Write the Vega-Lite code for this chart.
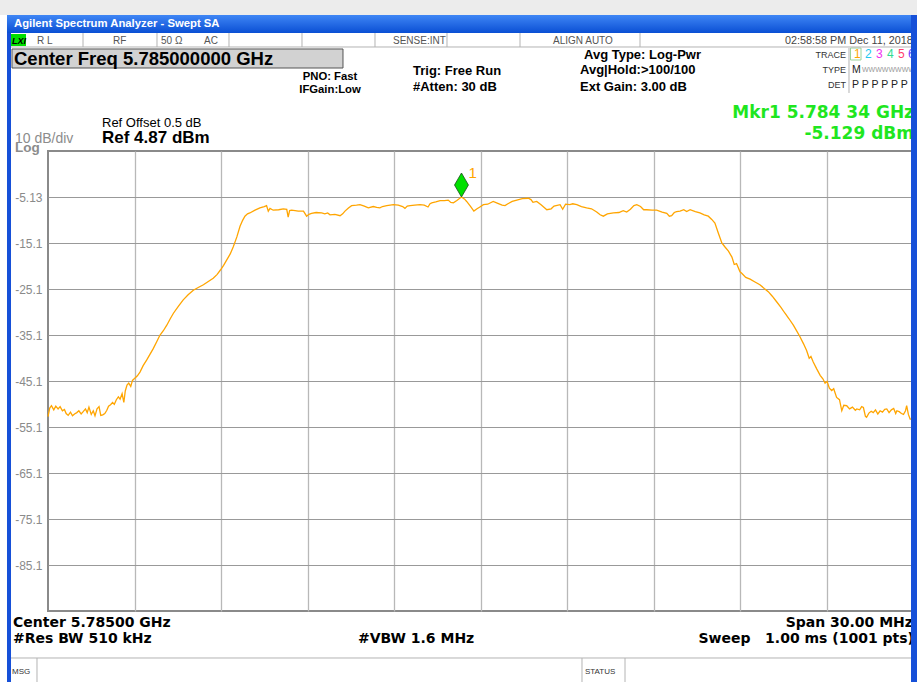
{
  "$schema": "https://vega.github.io/schema/vega-lite/v6.json",
  "width": 865,
  "height": 460,
  "autosize": {"type": "none"},
  "padding": {"left": 48, "top": 151, "right": 4, "bottom": 71},
  "background": "white",
  "config": {"view": {"stroke": "#8a8a8a", "strokeWidth": 2}, "font": "Liberation Sans"},
  "encoding": {
    "x": {"field": "f", "type": "quantitative", "scale": {"domain": [5770, 5800], "nice": false, "zero": false},
      "axis": {"values": [5773, 5776, 5779, 5782, 5785, 5788, 5791, 5794, 5797], "labels": false, "ticks": false, "domain": false, "title": null, "grid": true, "gridColor": "#b8b8b8", "gridWidth": 1.3}},
    "y": {"field": "v", "type": "quantitative", "scale": {"domain": [-95.13, 4.87], "nice": false, "zero": false},
      "axis": {"values": [-5.13, -15.13, -25.13, -35.13, -45.13, -55.13, -65.13, -75.13, -85.13], "ticks": false, "domain": false, "title": null, "grid": true, "gridColor": "#999999", "gridWidth": 1, "labelColor": "#8a8a8a", "labelFontSize": 12, "labelFont": "Liberation Sans", "labelPadding": 6, "labelExpr": "datum.value > -6 ? '-5.13' : '-' + format(-datum.value, '.1f')"}}
  },
  "layer": [
    {"data": {"values": [{"f": 5768.335, "f2": 5800.139, "v": 37.696, "v2": 34.435}]},
     "mark": {"type": "rect", "color": "#ececec"},
     "encoding": {"x2": {"field": "f2"}, "y2": {"field": "v2"}}},
    {"data": {"values": [{"f": 5768.578, "f2": 5799.965, "v": 34.435, "v2": 30.522}]},
     "mark": {"type": "rect", "color": {"x1": 0, "y1": 0, "x2": 0, "y2": 1, "gradient": "linear", "stops": [{"offset": 0, "color": "#3f86f5"}, {"offset": 1, "color": "#0a4fd4"}]}},
     "encoding": {"x2": {"field": "f2"}, "y2": {"field": "v2"}}},
    {"data": {"values": [{"f": 5768.751, "f2": 5780.231, "v": 27.044, "v2": 22.913}]},
     "mark": {"type": "rect", "color": "#d2d2d2", "stroke": "#555555", "strokeWidth": 1},
     "encoding": {"x2": {"field": "f2"}, "y2": {"field": "v2"}}},
    {"data": {"values": [{"f": 5768.717, "f2": 5769.237, "v": 30.305, "v2": 27.696}]},
     "mark": {"type": "rect", "color": "#00e000"},
     "encoding": {"x2": {"field": "f2"}, "y2": {"field": "v2"}}},
    {"data": {"values": [{"f": 5797.833, "f2": 5798.197, "v": 27.261, "v2": 24.653}]},
     "mark": {"type": "rect", "fill": null, "fillOpacity": 0, "stroke": "#9ad29a", "strokeWidth": 1},
     "encoding": {"x2": {"field": "f2"}, "y2": {"field": "v2"}}},
    {"data": {"values": [
      {"f": 5771.214, "v": 30.522, "v2": 27.479}, {"f": 5773.780, "v": 30.522, "v2": 27.479},
      {"f": 5776.277, "v": 30.522, "v2": 27.479}, {"f": 5778.809, "v": 30.522, "v2": 27.479},
      {"f": 5781.341, "v": 30.522, "v2": 27.479}, {"f": 5783.838, "v": 30.522, "v2": 27.479},
      {"f": 5786.370, "v": 30.522, "v2": 27.479}, {"f": 5790.532, "v": 30.522, "v2": 27.479},
      {"f": 5797.780, "v": 27.261, "v2": 17.479},
      {"f": 5769.618, "v": -105.347, "v2": -110.565}, {"f": 5788.520, "v": -105.347, "v2": -110.565},
      {"f": 5790.012, "v": -105.347, "v2": -110.565}
    ]},
     "mark": {"type": "rule", "color": "#b4b4b4", "strokeWidth": 1},
     "encoding": {"y2": {"field": "v2"}}},
    {"data": {"values": [
      {"f": 5768.717, "f2": 5799.965, "v": 27.479},
      {"f": 5768.717, "f2": 5799.965, "v": -105.347}
    ]},
     "mark": {"type": "rule", "color": "#b4b4b4", "strokeWidth": 1},
     "encoding": {"x2": {"field": "f2"}}},
    {"data": {"values": [
      {"f":5770.00,"v":-52.9},{"f":5770.06,"v":-51.0},{"f":5770.12,"v":-50.5},{"f":5770.20,"v":-51.4},{"f":5770.27,"v":-50.6},{"f":5770.35,"v":-51.2},{"f":5770.42,"v":-50.7},{"f":5770.50,"v":-51.6},{"f":5770.57,"v":-51.3},{"f":5770.63,"v":-52.2},{"f":5770.70,"v":-52.6},{"f":5770.78,"v":-51.9},{"f":5770.85,"v":-52.7},{"f":5770.92,"v":-52.3},{"f":5771.00,"v":-52.0},{"f":5771.07,"v":-51.6},{"f":5771.15,"v":-52.3},{"f":5771.22,"v":-51.8},{"f":5771.30,"v":-51.2},{"f":5771.36,"v":-52.0},{"f":5771.42,"v":-50.8},{"f":5771.50,"v":-52.4},{"f":5771.57,"v":-51.6},{"f":5771.63,"v":-52.7},{"f":5771.70,"v":-51.2},{"f":5771.77,"v":-50.7},{"f":5771.83,"v":-52.6},{"f":5771.90,"v":-52.5},{"f":5771.97,"v":-52.2},{"f":5772.04,"v":-51.5},{"f":5772.10,"v":-50.6},{"f":5772.17,"v":-50.3},{"f":5772.24,"v":-49.8},{"f":5772.30,"v":-50.2},{"f":5772.37,"v":-49.2},{"f":5772.44,"v":-48.6},{"f":5772.50,"v":-49.1},{"f":5772.57,"v":-47.9},{"f":5772.63,"v":-49.8},{"f":5772.68,"v":-47.3},{"f":5772.74,"v":-46.0},{"f":5772.80,"v":-45.6},{"f":5772.87,"v":-46.3},{"f":5772.93,"v":-45.0},{"f":5773.00,"v":-44.6},{"f":5773.10,"v":-44.0},{"f":5773.19,"v":-43.2},{"f":5773.30,"v":-41.8},{"f":5773.42,"v":-40.6},{"f":5773.53,"v":-39.4},{"f":5773.65,"v":-38.1},{"f":5773.77,"v":-36.6},{"f":5773.88,"v":-35.2},{"f":5774.00,"v":-34.2},{"f":5774.12,"v":-33.0},{"f":5774.24,"v":-31.6},{"f":5774.35,"v":-30.4},{"f":5774.52,"v":-28.9},{"f":5774.69,"v":-27.5},{"f":5774.86,"v":-26.4},{"f":5775.04,"v":-25.4},{"f":5775.21,"v":-24.8},{"f":5775.39,"v":-24.2},{"f":5775.56,"v":-23.5},{"f":5775.73,"v":-22.8},{"f":5775.86,"v":-22.0},{"f":5775.98,"v":-21.0},{"f":5776.09,"v":-20.0},{"f":5776.20,"v":-18.8},{"f":5776.32,"v":-17.5},{"f":5776.43,"v":-15.9},{"f":5776.55,"v":-13.8},{"f":5776.66,"v":-11.5},{"f":5776.75,"v":-10.2},{"f":5776.83,"v":-9.3},{"f":5776.92,"v":-8.8},{"f":5777.00,"v":-8.6},{"f":5777.18,"v":-8.0},{"f":5777.35,"v":-7.5},{"f":5777.50,"v":-7.2},{"f":5777.58,"v":-7.0},{"f":5777.64,"v":-8.2},{"f":5777.70,"v":-7.6},{"f":5777.81,"v":-8.0},{"f":5778.00,"v":-7.9},{"f":5778.16,"v":-7.7},{"f":5778.28,"v":-7.8},{"f":5778.33,"v":-9.5},{"f":5778.38,"v":-8.1},{"f":5778.45,"v":-8.0},{"f":5778.57,"v":-8.1},{"f":5778.68,"v":-8.2},{"f":5778.86,"v":-8.2},{"f":5778.97,"v":-9.3},{"f":5779.05,"v":-8.9},{"f":5779.14,"v":-8.7},{"f":5779.30,"v":-8.5},{"f":5779.49,"v":-8.6},{"f":5779.60,"v":-8.8},{"f":5779.70,"v":-8.6},{"f":5779.78,"v":-9.0},{"f":5779.95,"v":-8.9},{"f":5780.13,"v":-9.2},{"f":5780.22,"v":-8.8},{"f":5780.30,"v":-8.2},{"f":5780.42,"v":-7.5},{"f":5780.53,"v":-7.0},{"f":5780.70,"v":-6.9},{"f":5780.82,"v":-6.8},{"f":5780.97,"v":-7.1},{"f":5781.11,"v":-7.5},{"f":5781.28,"v":-7.2},{"f":5781.40,"v":-7.4},{"f":5781.51,"v":-7.5},{"f":5781.60,"v":-7.2},{"f":5781.75,"v":-7.0},{"f":5781.98,"v":-6.8},{"f":5782.15,"v":-6.9},{"f":5782.30,"v":-7.2},{"f":5782.38,"v":-7.6},{"f":5782.46,"v":-7.1},{"f":5782.56,"v":-7.0},{"f":5782.72,"v":-6.9},{"f":5782.90,"v":-6.8},{"f":5783.05,"v":-6.9},{"f":5783.18,"v":-7.3},{"f":5783.25,"v":-6.6},{"f":5783.31,"v":-6.4},{"f":5783.45,"v":-6.2},{"f":5783.60,"v":-5.9},{"f":5783.75,"v":-5.9},{"f":5783.88,"v":-5.8},{"f":5783.97,"v":-6.3},{"f":5784.06,"v":-6.4},{"f":5784.18,"v":-5.9},{"f":5784.34,"v":-5.13},{"f":5784.45,"v":-5.6},{"f":5784.52,"v":-6.1},{"f":5784.66,"v":-7.2},{"f":5784.77,"v":-8.2},{"f":5784.88,"v":-7.7},{"f":5784.98,"v":-7.3},{"f":5785.10,"v":-6.8},{"f":5785.25,"v":-6.7},{"f":5785.44,"v":-6.1},{"f":5785.60,"v":-6.5},{"f":5785.75,"v":-6.9},{"f":5785.85,"v":-7.0},{"f":5785.95,"v":-6.6},{"f":5786.10,"v":-6.1},{"f":5786.26,"v":-5.8},{"f":5786.45,"v":-5.5},{"f":5786.66,"v":-5.4},{"f":5786.75,"v":-5.7},{"f":5786.82,"v":-6.3},{"f":5786.95,"v":-6.1},{"f":5787.10,"v":-6.8},{"f":5787.30,"v":-7.9},{"f":5787.45,"v":-7.7},{"f":5787.55,"v":-7.1},{"f":5787.76,"v":-6.8},{"f":5787.85,"v":-7.8},{"f":5787.95,"v":-6.7},{"f":5788.10,"v":-6.8},{"f":5788.20,"v":-6.6},{"f":5788.34,"v":-6.8},{"f":5788.50,"v":-7.2},{"f":5788.68,"v":-7.5},{"f":5788.85,"v":-7.7},{"f":5789.03,"v":-8.4},{"f":5789.15,"v":-9.0},{"f":5789.26,"v":-9.3},{"f":5789.40,"v":-8.8},{"f":5789.61,"v":-8.6},{"f":5789.80,"v":-8.5},{"f":5789.95,"v":-8.1},{"f":5790.07,"v":-8.4},{"f":5790.20,"v":-7.8},{"f":5790.32,"v":-7.0},{"f":5790.42,"v":-6.8},{"f":5790.55,"v":-7.2},{"f":5790.66,"v":-7.9},{"f":5790.76,"v":-7.9},{"f":5790.95,"v":-8.0},{"f":5791.11,"v":-8.0},{"f":5791.30,"v":-8.4},{"f":5791.46,"v":-8.7},{"f":5791.55,"v":-9.3},{"f":5791.63,"v":-9.2},{"f":5791.72,"v":-8.5},{"f":5791.80,"v":-8.3},{"f":5791.92,"v":-8.2},{"f":5792.05,"v":-7.9},{"f":5792.15,"v":-8.3},{"f":5792.27,"v":-7.9},{"f":5792.45,"v":-8.3},{"f":5792.61,"v":-8.6},{"f":5792.76,"v":-9.0},{"f":5792.90,"v":-9.3},{"f":5793.02,"v":-10.0},{"f":5793.13,"v":-10.8},{"f":5793.25,"v":-13.0},{"f":5793.37,"v":-15.1},{"f":5793.48,"v":-16.0},{"f":5793.60,"v":-16.9},{"f":5793.72,"v":-18.2},{"f":5793.80,"v":-19.8},{"f":5793.88,"v":-19.6},{"f":5794.00,"v":-21.4},{"f":5794.06,"v":-21.7},{"f":5794.20,"v":-22.6},{"f":5794.35,"v":-23.0},{"f":5794.52,"v":-23.6},{"f":5794.69,"v":-24.2},{"f":5794.84,"v":-25.0},{"f":5794.98,"v":-25.7},{"f":5795.12,"v":-26.7},{"f":5795.27,"v":-27.9},{"f":5795.42,"v":-29.1},{"f":5795.56,"v":-30.4},{"f":5795.70,"v":-31.6},{"f":5795.85,"v":-33.0},{"f":5795.97,"v":-34.3},{"f":5796.08,"v":-35.5},{"f":5796.20,"v":-37.0},{"f":5796.31,"v":-38.5},{"f":5796.40,"v":-40.2},{"f":5796.46,"v":-39.8},{"f":5796.54,"v":-41.0},{"f":5796.66,"v":-42.5},{"f":5796.78,"v":-43.9},{"f":5796.88,"v":-44.7},{"f":5796.95,"v":-45.6},{"f":5797.02,"v":-45.2},{"f":5797.10,"v":-46.7},{"f":5797.18,"v":-47.2},{"f":5797.25,"v":-46.8},{"f":5797.35,"v":-48.7},{"f":5797.45,"v":-49.2},{"f":5797.53,"v":-51.6},{"f":5797.60,"v":-50.4},{"f":5797.70,"v":-50.5},{"f":5797.80,"v":-51.2},{"f":5797.90,"v":-50.8},{"f":5798.00,"v":-51.5},{"f":5798.05,"v":-51.2},{"f":5798.15,"v":-51.4},{"f":5798.22,"v":-50.7},{"f":5798.28,"v":-50.9},{"f":5798.35,"v":-52.8},{"f":5798.39,"v":-53.0},{"f":5798.47,"v":-52.1},{"f":5798.55,"v":-51.7},{"f":5798.62,"v":-52.0},{"f":5798.70,"v":-51.4},{"f":5798.78,"v":-52.3},{"f":5798.86,"v":-51.6},{"f":5798.94,"v":-51.9},{"f":5799.02,"v":-51.3},{"f":5799.09,"v":-51.2},{"f":5799.17,"v":-52.0},{"f":5799.25,"v":-51.4},{"f":5799.33,"v":-51.1},{"f":5799.40,"v":-52.2},{"f":5799.44,"v":-51.6},{"f":5799.52,"v":-51.8},{"f":5799.60,"v":-52.2},{"f":5799.67,"v":-52.4},{"f":5799.74,"v":-51.6},{"f":5799.78,"v":-50.5},{"f":5799.84,"v":-52.4},{"f":5799.90,"v":-53.4},{"f":5800.00,"v":-53.4}
    ]},
     "mark": {"type": "line", "color": "#ffa500", "strokeWidth": 1.3}},
    {"data": {"values": [{"f": 5784.34, "v": -5.13}]},
     "mark": {"type": "point", "shape": "M0,-1L0.58,0L0,1L-0.58,0Z", "size": 576, "filled": true, "fill": "#00e000", "stroke": "#1a4d1a", "strokeWidth": 0.8, "opacity": 1, "yOffset": -12}},
    {"data": {"values": [{"f": 5784.34, "v": -5.13, "t": "1"}]},
     "mark": {"type": "text", "align": "left", "baseline": "alphabetic", "dx": 7, "dy": -19, "fontSize": 15, "color": "#ffa500"},
     "encoding": {"text": {"field": "t"}}},
    {"data": {"values": [{"f": 5768.821, "v": 31.827, "t": "Agilent Spectrum Analyzer - Swept SA"}]},
     "mark": {"type": "text", "align": "left", "baseline": "alphabetic", "fontSize": 11.3, "fontWeight": "bold", "color": "white"},
     "encoding": {"text": {"field": "t"}}},
    {"data": {"values": [
      {"f": 5769.618, "v": 28.131, "t": "R L"}, {"f": 5772.254, "v": 28.131, "t": "RF"},
      {"f": 5773.919, "v": 28.131, "t": "50 Ω"}, {"f": 5775.410, "v": 28.131, "t": "AC"},
      {"f": 5781.965, "v": 28.131, "t": "SENSE:INT"}, {"f": 5787.514, "v": 28.131, "t": "ALIGN AUTO"}
    ]},
     "mark": {"type": "text", "align": "left", "baseline": "alphabetic", "fontSize": 10, "color": "#555555"},
     "encoding": {"text": {"field": "t"}}},
    {"data": {"values": [{"f": 5795.561, "v": 28.131, "t": "02:58:58 PM Dec 11, 2018"}]},
     "mark": {"type": "text", "align": "left", "baseline": "alphabetic", "fontSize": 10.8, "color": "#444444"},
     "encoding": {"text": {"field": "t"}}},
    {"data": {"values": [{"f": 5768.751, "v": 28.131, "t": "LXI"}]},
     "mark": {"type": "text", "align": "left", "baseline": "alphabetic", "fontSize": 9, "fontWeight": "bold", "fontStyle": "italic", "color": "#000000"},
     "encoding": {"text": {"field": "t"}}},
    {"data": {"values": [{"f": 5768.821, "v": 23.566, "t": "Center Freq 5.785000000 GHz"}]},
     "mark": {"type": "text", "align": "left", "baseline": "alphabetic", "fontSize": 18.5, "fontWeight": "bold", "color": "#000000"},
     "encoding": {"text": {"field": "t"}}},
    {"data": {"values": [{"f": 5779.780, "v": 20.305, "t": "PNO: Fast"}, {"f": 5779.780, "v": 17.479, "t": "IFGain:Low"}]},
     "mark": {"type": "text", "align": "center", "baseline": "alphabetic", "fontSize": 11.3, "fontWeight": "bold", "color": "#000000"},
     "encoding": {"text": {"field": "t"}}},
    {"data": {"values": [
      {"f": 5782.659, "v": 21.392, "t": "Trig: Free Run"}, {"f": 5782.659, "v": 17.913, "t": "#Atten: 30 dB"},
      {"f": 5788.590, "v": 24.87, "t": "Avg Type: Log-Pwr"}, {"f": 5788.451, "v": 21.609, "t": "Avg|Hold:>100/100"},
      {"f": 5788.451, "v": 17.913, "t": "Ext Gain: 3.00 dB"}
    ]},
     "mark": {"type": "text", "align": "left", "baseline": "alphabetic", "fontSize": 13, "fontWeight": "bold", "color": "#000000"},
     "encoding": {"text": {"field": "t"}}},
    {"data": {"values": [{"f": 5797.676, "v": 25.087, "t": "TRACE"}, {"f": 5797.676, "v": 21.827, "t": "TYPE"}, {"f": 5797.676, "v": 18.566, "t": "DET"}]},
     "mark": {"type": "text", "align": "right", "baseline": "alphabetic", "fontSize": 9, "color": "#333333"},
     "encoding": {"text": {"field": "t"}}},
    {"data": {"values": [{"f": 5797.884, "v": 21.827, "t": "M"}, {"f": 5797.884, "v": 18.566, "t": "P  P  P  P  P  P"}]},
     "mark": {"type": "text", "align": "left", "baseline": "alphabetic", "fontSize": 10.5, "color": "#222222"},
     "encoding": {"text": {"field": "t"}}},
    {"data": {"values": [{"f": 5798.231, "v": 22.04, "t": "WWWWWWWWWWWW"}]},
     "mark": {"type": "text", "align": "left", "baseline": "alphabetic", "fontSize": 7, "color": "#999999"},
     "encoding": {"text": {"field": "t"}}},
    {"data": {"values": [
      {"f": 5797.954, "v": 25.087, "t": "1"}, {"f": 5798.336, "v": 25.087, "t": "2"}, {"f": 5798.717, "v": 25.087, "t": "3"},
      {"f": 5799.099, "v": 25.087, "t": "4"}, {"f": 5799.480, "v": 25.087, "t": "5"}, {"f": 5799.827, "v": 25.087, "t": "6"}
    ]},
     "mark": {"type": "text", "align": "left", "baseline": "alphabetic", "fontSize": 12},
     "encoding": {"text": {"field": "t"}, "color": {"field": "t", "type": "nominal", "legend": null, "scale": {"domain": ["1", "2", "3", "4", "5", "6"], "range": ["#ffa500", "#22c8f0", "#f030f0", "#30dc90", "#ff3c6e", "#6a3cff"]}}}},
    {"data": {"values": [{"f": 5771.873, "v": 10.087, "t": "Ref Offset 0.5 dB"}]},
     "mark": {"type": "text", "align": "left", "baseline": "alphabetic", "fontSize": 13, "color": "#000000"},
     "encoding": {"text": {"field": "t"}}},
    {"data": {"values": [{"f": 5771.873, "v": 6.609, "t": "Ref 4.87 dBm"}]},
     "mark": {"type": "text", "align": "left", "baseline": "alphabetic", "fontSize": 17, "fontWeight": "bold", "color": "#000000"},
     "encoding": {"text": {"field": "t"}}},
    {"data": {"values": [{"f": 5768.855, "v": 6.609, "t": "10 dB/div"}]},
     "mark": {"type": "text", "align": "left", "baseline": "alphabetic", "fontSize": 14, "color": "#8c8c8c"},
     "encoding": {"text": {"field": "t"}}},
    {"data": {"values": [{"f": 5768.855, "v": 4.652, "t": "Log"}]},
     "mark": {"type": "text", "align": "left", "baseline": "alphabetic", "fontSize": 13.5, "fontWeight": "bold", "color": "#8c8c8c"},
     "encoding": {"text": {"field": "t"}}},
    {"data": {"values": [{"f": 5800.035, "v": 12.044, "t": "Mkr1 5.784 34 GHz"}, {"f": 5800.035, "v": 7.587, "t": "-5.129 dBm"}]},
     "mark": {"type": "text", "align": "right", "baseline": "alphabetic", "font": "DejaVu Sans", "fontSize": 17, "fontWeight": "bold", "color": "#1fe61f"},
     "encoding": {"text": {"field": "t"}}},
    {"data": {"values": [
      {"f": 5768.786, "v": -98.608, "t": "Center 5.78500 GHz"}, {"f": 5768.786, "v": -102.087, "t": "#Res BW 510 kHz"},
      {"f": 5780.751, "v": -102.087, "t": "#VBW 1.6 MHz"}
    ]},
     "mark": {"type": "text", "align": "left", "baseline": "alphabetic", "font": "DejaVu Sans", "fontSize": 14, "fontWeight": "bold", "color": "#000000"},
     "encoding": {"text": {"field": "t"}}},
    {"data": {"values": [{"f": 5800.0, "v": -98.608, "t": "Span 30.00 MHz"}, {"f": 5800.035, "v": -102.087, "t": "Sweep\u00a0\u00a0 1.00 ms (1001 pts)"}]},
     "mark": {"type": "text", "align": "right", "baseline": "alphabetic", "font": "DejaVu Sans", "fontSize": 14, "fontWeight": "bold", "color": "#000000"},
     "encoding": {"text": {"field": "t"}}},
    {"data": {"values": [{"f": 5768.751, "v": -108.826, "t": "MSG"}, {"f": 5788.624, "v": -108.826, "t": "STATUS"}]},
     "mark": {"type": "text", "align": "left", "baseline": "alphabetic", "fontSize": 8, "color": "#333333"},
     "encoding": {"text": {"field": "t"}}},
    {"data": {"values": [
      {"f": 5768.578, "f2": 5768.717, "v": 30.522, "v2": -110.565},
      {"f": 5799.931, "f2": 5800.139, "v": 34.435, "v2": -110.565}
    ]},
     "mark": {"type": "rect", "color": "#1650d8"},
     "encoding": {"x2": {"field": "f2"}, "y2": {"field": "v2"}}}
  ]
}
